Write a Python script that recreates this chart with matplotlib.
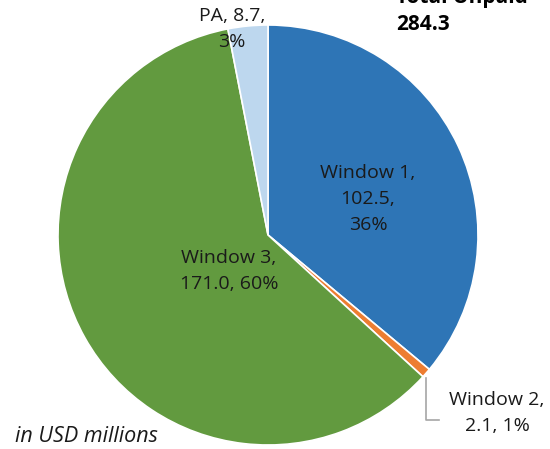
import matplotlib
matplotlib.use("Agg")
import matplotlib.pyplot as plt

plt.rcParams['font.family'] = ['Open Sans', 'DejaVu Sans']

# data
categories = ['Window 1', 'Window 2', 'Window 3', 'PA']
values = [102.5, 2.1, 171.0, 8.7]
colors = ['#2E75B6', '#ED7D31', '#629A3F', '#BDD7EE']
total = 284.3

fig = plt.figure(figsize=(5.5, 4.49), dpi=100)
ax = fig.add_axes([0, 0, 1, 1])

# pie centre and radius in pixel space
ax.pie(values, colors=colors, startangle=90, counterclock=False,
       center=(268, 449 - 235), radius=210,
       wedgeprops=dict(edgecolor='white', linewidth=1.2), frame=True)
ax.set_xlim(0, 550)
ax.set_ylim(0, 449)
ax.set_aspect('equal')
ax.axis('off')

pct = [round(v / total * 100) for v in values]
fs = 14
ls = 1.55
tc = '#1a1a1a'
ax.text(368, 449 - 199, f"{categories[0]},\n{values[0]:.1f},\n{pct[0]}%",
        ha='center', va='center', fontsize=fs, linespacing=ls, color=tc)
ax.text(229, 449 - 271, f"{categories[2]},\n{values[2]:.1f}, {pct[2]}%",
        ha='center', va='center', fontsize=fs, linespacing=ls, color=tc)
ax.text(232, 449 - 29, f"{categories[3]}, {values[3]:.1f},\n{pct[3]}%",
        ha='center', va='center', fontsize=fs, linespacing=ls, color=tc)
ax.text(497, 449 - 413, f"{categories[1]},\n{values[1]:.1f}, {pct[1]}%",
        ha='center', va='center', fontsize=fs, linespacing=ls, color=tc)

# leader line for small slice
ax.plot([426, 426, 439], [449 - 378, 449 - 420, 449 - 420], color='#A6A6A6', lw=1.2)

ax.text(396, 449 - 25, f"{total:.1f}", ha='left', va='center',
        fontsize=15, fontweight='bold')
ax.text(396, 449 + 2, "Total Unpaid", ha='left', va='center',
        fontsize=15, fontweight='bold', clip_on=False)
ax.text(15, 449 - 436, "in USD millions", ha='left', va='center',
        fontsize=15.5, style='italic', color=tc)

fig.savefig('out.png', dpi=100)
